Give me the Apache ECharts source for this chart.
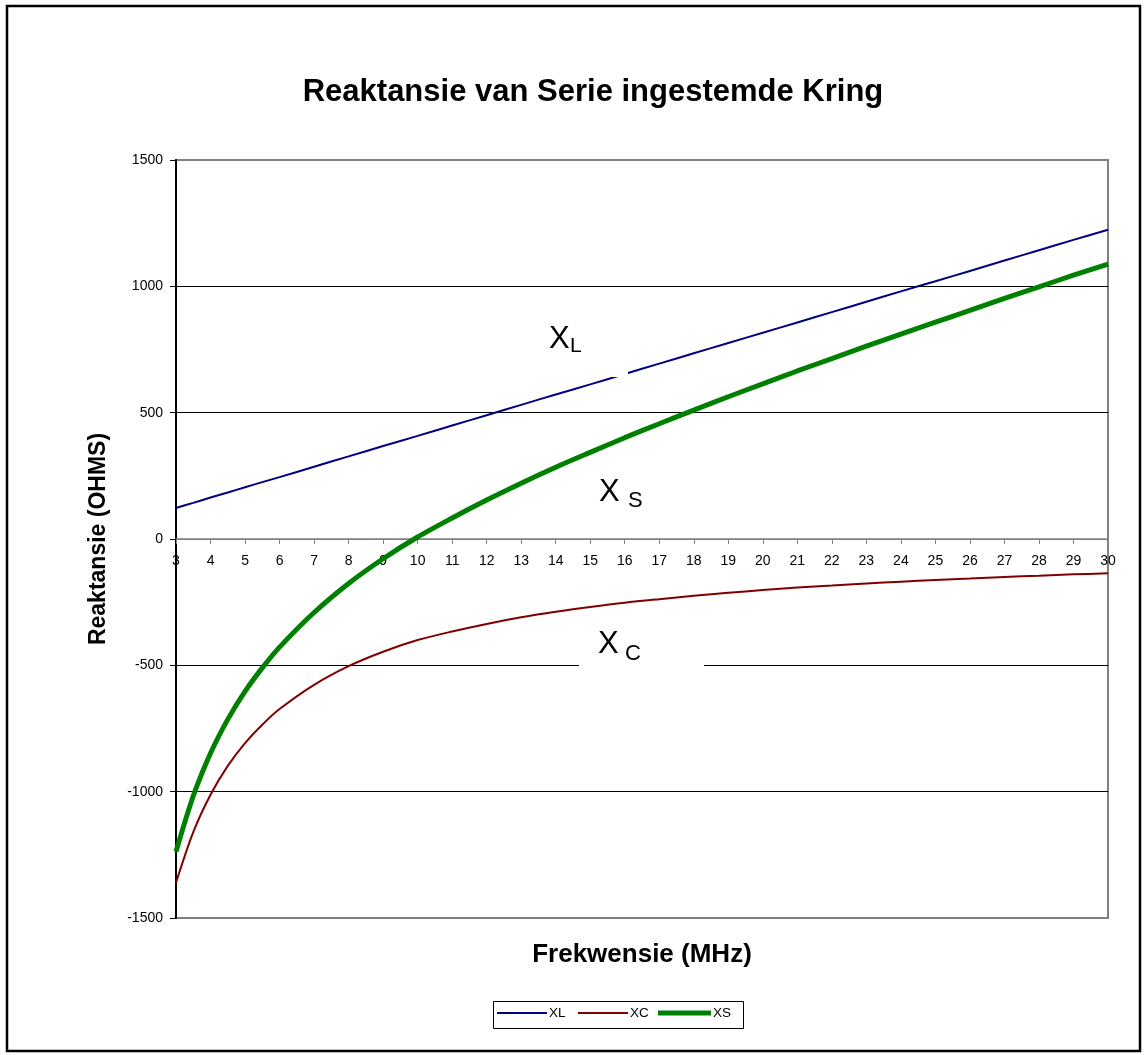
<!DOCTYPE html>
<html>
<head>
<meta charset="utf-8">
<script src="https://cdn.jsdelivr.net/npm/echarts@6/dist/echarts.min.js"></script>
<style>html,body{margin:0;padding:0;background:#fff}#c{width:1145px;height:1055px}</style>
</head>
<body>
<div id="c"></div>
<script>
// Frequency (MHz)
const freq = [3, 3.5, 4, 4.5, 5, 5.5, 6, 7, 8, 9, 10, 11, 12, 13, 14, 15, 16, 17, 18, 19, 20, 21, 22, 23, 24, 25, 26, 27, 28, 29, 30];
// Inductive reactance XL (ohms)
const xl = [123, 143, 164, 184, 205, 225, 245, 286, 327, 368, 408, 449, 490, 531, 572, 612, 653, 694, 735, 776, 816, 857, 898, 939, 980, 1020, 1061, 1102, 1143, 1184, 1224];
// Capacitive reactance XC (ohms)
const xc = [-1360, -1160, -1012, -898, -808, -735, -673, -577, -503, -446, -400, -366, -336, -310, -288, -269, -252, -238, -225, -213, -202, -192, -184, -176, -169, -162, -156, -150, -145, -140, -136];
// Series reactance XS (ohms)
const xs = [-1237, -1017, -848, -714, -603, -510, -428, -291, -176, -78, 8, 83, 154, 221, 284, 343, 401, 456, 510, 563, 614, 665, 714, 763, 811, 858, 905, 952, 998, 1044, 1088];
const yTicks = [-1500, -1000, -500, 0, 500, 1000, 1500];

const pairs = (ys) => freq.map((f, i) => [f, ys[i]]);
const font = 'Liberation Sans, Arial, sans-serif';
const legendText = {fontFamily: font, fontSize: 13.5, color: '#000', padding: [0, 0, 0, -3]};
const txt = (s, x, y, size) => ({type: 'text', left: x, top: y, z: 51,
  style: {text: s, fontFamily: font, fontSize: size, fill: '#000'}});

const chart = echarts.init(document.getElementById('c'), null, {renderer: 'canvas'});
chart.setOption({
  animation: false,
  backgroundColor: '#fff',
  title: {
    text: 'Reaktansie van Serie ingestemde Kring',
    left: 588, top: 72, textAlign: 'center',
    textStyle: {fontFamily: font, fontSize: 31, fontWeight: 'bold', color: '#000'}
  },
  legend: [
    {left: 497, top: 1006, padding: 0, itemWidth: 50, itemHeight: 2, icon: 'rect',
     textStyle: legendText, data: ['XL']},
    {left: 578, top: 1006, padding: 0, itemWidth: 50, itemHeight: 2, icon: 'rect',
     textStyle: legendText, data: ['XC']},
    {left: 658, top: 1006, padding: 0, itemWidth: 53, itemHeight: 5, icon: 'rect',
     textStyle: legendText, data: ['XS']}
  ],
  grid: {
    left: 176, right: 37, top: 160, bottom: 137,
    outerBoundsMode: 'none', containLabel: false,
    show: true, borderColor: '#808080', borderWidth: 2, backgroundColor: 'transparent'
  },
  xAxis: {
    type: 'value', min: 3, max: 30, interval: 1,
    position: 'bottom', offset: -379,
    name: 'Frekwensie (MHz)', nameLocation: 'middle', nameGap: 403,
    nameTextStyle: {fontFamily: font, fontSize: 26, fontWeight: 'bold', color: '#000'},
    axisLine: {onZero: false, lineStyle: {color: '#808080', width: 1.5}},
    axisTick: {show: true, length: 5, lineStyle: {color: '#808080'}},
    axisLabel: {fontFamily: font, fontSize: 14, color: '#000', margin: 15},
    splitLine: {show: false}
  },
  yAxis: {
    type: 'value', min: -1500, max: 1500, interval: 500,
    name: 'Reaktansie (OHMS)', nameLocation: 'middle', nameGap: 66, nameRotate: 90,
    nameTextStyle: {fontFamily: font, fontSize: 23, fontWeight: 'bold', color: '#000'},
    axisLine: {show: true, lineStyle: {color: '#000', width: 2}},
    axisTick: {show: true, length: 6, lineStyle: {color: '#000'}},
    axisLabel: {fontFamily: font, fontSize: 14, color: '#000', margin: 13,
      formatter: (v) => yTicks.includes(v) ? String(v) : ''},
    splitLine: {show: true, lineStyle: {color: ['#808080', '#000', '#000', '#808080', '#000', '#000', '#808080'], width: 1}}
  },
  series: [
    {name: 'XL', type: 'line', data: pairs(xl), symbol: 'none', smooth: 0.3,
     lineStyle: {color: '#000080', width: 2}, itemStyle: {color: '#000080'}, z: 3},
    {name: 'XC', type: 'line', data: pairs(xc), symbol: 'none', smooth: 0.3,
     lineStyle: {color: '#800000', width: 2}, itemStyle: {color: '#800000'}, z: 3},
    {name: 'XS', type: 'line', data: pairs(xs), symbol: 'none', smooth: 0.3,
     lineStyle: {color: '#008000', width: 5}, itemStyle: {color: '#008000'}, z: 4}
  ],
  graphic: [
    {type: 'rect', shape: {x: 7, y: 6, width: 1133, height: 1045},
     style: {fill: 'none', stroke: '#000', lineWidth: 2.5}, z: 100},
    {type: 'rect', shape: {x: 493.5, y: 1001.5, width: 250, height: 27},
     style: {fill: 'none', stroke: '#000', lineWidth: 1}, z: 100},
    // XL label
    {type: 'rect', shape: {x: 532, y: 318, width: 96, height: 59}, style: {fill: '#fff'}, z: 50},
    txt('X', 549, 324, 31), txt('L', 570, 336, 21),
    // XS label
    {type: 'rect', shape: {x: 585, y: 470, width: 100, height: 48}, style: {fill: '#fff'}, z: 50},
    txt('X', 599, 477, 31), txt('S', 628, 490, 22),
    // XC label
    {type: 'rect', shape: {x: 579, y: 618, width: 125, height: 70}, style: {fill: '#fff'}, z: 50},
    txt('X', 598, 629, 31), txt('C', 625, 643, 22)
  ]
});
</script>
</body>
</html>
